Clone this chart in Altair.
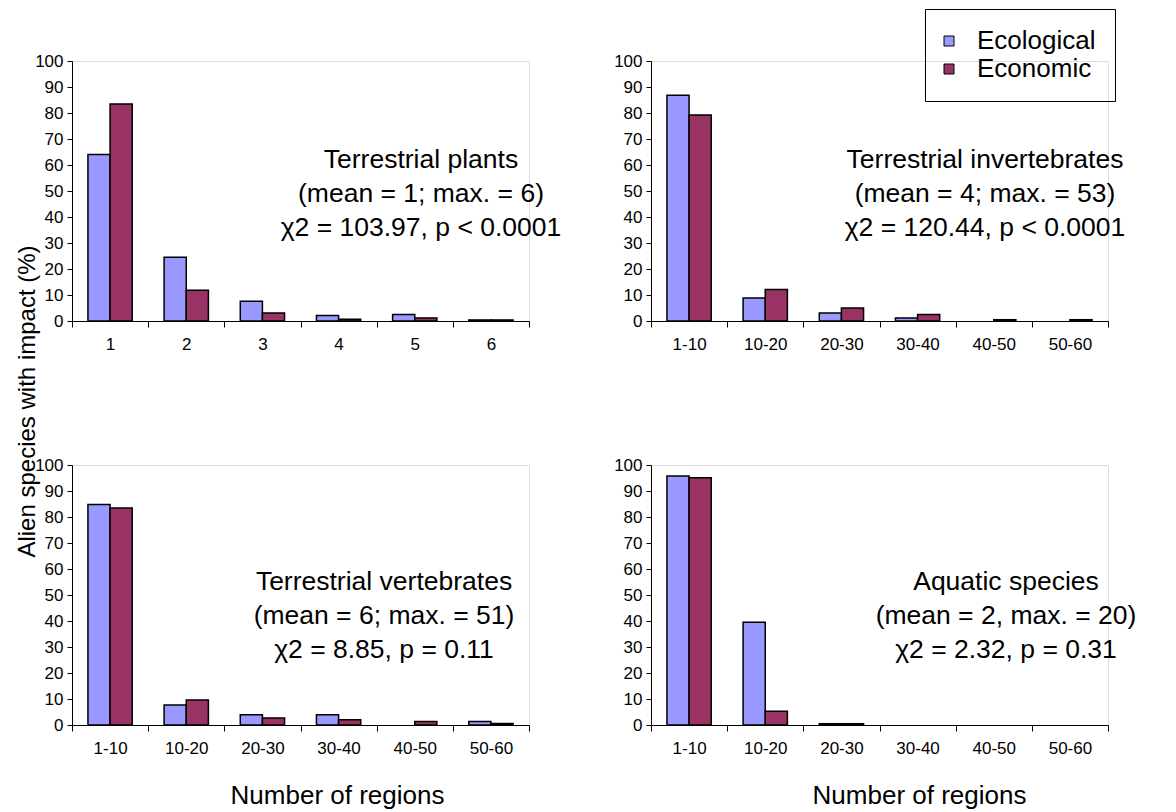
import altair as alt
import pandas as pd

SERIES = ["Ecological", "Economic"]
COLORS = ["#9999FF", "#993366"]

CATS_PLANTS = ["1", "2", "3", "4", "5", "6"]
CATS_REGIONS = ["1-10", "10-20", "20-30", "30-40", "40-50", "50-60"]
Y_TICKS = [0, 10, 20, 30, 40, 50, 60, 70, 80, 90, 100]

plants_eco = [64.0, 24.5, 7.6, 2.1, 2.5, 0.4]
plants_econ = [83.5, 11.8, 3.1, 0.7, 1.2, 0.4]
invert_eco = [86.8, 8.8, 3.1, 1.2, 0.0, 0.0]
invert_econ = [79.2, 12.1, 5.0, 2.5, 0.5, 0.5]
vert_eco = [84.8, 7.7, 3.9, 3.9, 0.0, 1.3]
vert_econ = [83.5, 9.6, 2.7, 2.0, 1.3, 0.6]
aqua_eco = [95.8, 39.5, 0.5, 0.0, 0.0, 0.0]
aqua_econ = [95.1, 5.3, 0.5, 0.0, 0.0, 0.0]

note_plants = ["Terrestrial plants", "(mean = 1; max. = 6)", "\u03c72 = 103.97, p < 0.0001"]
note_invert = ["Terrestrial invertebrates", "(mean = 4; max. = 53)", "\u03c72 = 120.44, p < 0.0001"]
note_vert = ["Terrestrial vertebrates", "(mean = 6; max. = 51)", "\u03c72 = 8.85, p = 0.11"]
note_aqua = ["Aquatic species", "(mean = 2, max. = 20)", "\u03c72 = 2.32, p = 0.31"]

X_TITLE = "Number of regions"
Y_TITLE = "Alien species with impact (%)"

FONT = "Liberation Sans"
W = 457
H = 260

legend = alt.Legend(
    title=None,
    orient="none",
    legendX=853,
    legendY=-52,
    strokeColor="black",
    padding=19,
    symbolType="square",
    symbolSize=100,
    symbolStrokeColor="black",
    symbolStrokeWidth=1,
    symbolOffset=-8,
    labelFontSize=26,
    labelFont=FONT,
    labelColor="black",
    labelOffset=15,
    rowPadding=2,
)


def make_panel(cats, eco, econ, note, note_x, note_y, show_xtitle, xtitle_x, show_ytitle):
    df = pd.DataFrame({
        "cat": cats + cats,
        "series": [SERIES[0]] * len(cats) + [SERIES[1]] * len(cats),
        "value": eco + econ,
    })
    x_common = dict(labelAngle=0, tickBand="extent", tickSize=6, labelFontSize=17,
                    labelPadding=9, domainColor="black", tickColor="black",
                    labelColor="black", grid=False, labelFont=FONT)
    if show_xtitle:
        x_axis = alt.Axis(title=X_TITLE, titleX=xtitle_x, titleY=78, titleBaseline="alphabetic",
                          titleAlign="center", titleFontSize=26, titleFontWeight="normal",
                          titleColor="black", titleFont=FONT, **x_common)
    else:
        x_axis = alt.Axis(title=None, **x_common)
    y_common = dict(values=Y_TICKS, tickSize=5, labelFontSize=17, labelPadding=4,
                    domainColor="black", tickColor="black", labelColor="black",
                    grid=False, labelFont=FONT)
    if show_ytitle:
        y_axis = alt.Axis(title=Y_TITLE, titleX=-38, titleY=340, titleAngle=270,
                          titleAlign="center", titleBaseline="alphabetic", titleFontSize=24,
                          titleFontWeight="normal", titleColor="black", titleFont=FONT, **y_common)
    else:
        y_axis = alt.Axis(title=None, **y_common)

    bars = alt.Chart(df).transform_filter("datum.value > 0").mark_bar(
        stroke="black", strokeWidth=1.5
    ).encode(
        x=alt.X("cat:N", sort=cats, scale=alt.Scale(domain=cats, paddingInner=0, paddingOuter=0),
                axis=x_axis),
        xOffset=alt.XOffset("series:N", sort=SERIES,
                            scale=alt.Scale(domain=SERIES, paddingInner=0, paddingOuter=0.72)),
        y=alt.Y("value:Q", scale=alt.Scale(domain=[0, 100], nice=False), axis=y_axis),
        color=alt.Color("series:N", scale=alt.Scale(domain=SERIES, range=COLORS), legend=legend),
    )
    text = alt.Chart(pd.DataFrame({"k": [0]})).mark_text(
        text=note, fontSize=26.5, lineHeight=34, align="center", baseline="middle",
        color="black", font=FONT,
    ).encode(x=alt.value(note_x), y=alt.value(note_y))
    return alt.layer(bars, text).properties(width=W, height=H)


p1 = make_panel(CATS_PLANTS, plants_eco, plants_econ, note_plants, 349, 99, False, 0, True)
p2 = make_panel(CATS_REGIONS, invert_eco, invert_econ, note_invert, 334, 99, False, 0, False)
p3 = make_panel(CATS_REGIONS, vert_eco, vert_econ, note_vert, 312, 117, True, 265, False)
p4 = make_panel(CATS_REGIONS, aqua_eco, aqua_econ, note_aqua, 355, 117, True, 268, False)

chart = alt.concat(
    p1, p2, p3, p4, columns=2, spacing={"row": 144, "column": 122}, bounds="flush"
).configure_view(
    strokeWidth=0
).properties(
    padding={"left": 6, "top": 0, "right": 5, "bottom": 0}
).configure(font=FONT)

chart.save("out.html", embed_options={"renderer": "svg", "actions": False})
